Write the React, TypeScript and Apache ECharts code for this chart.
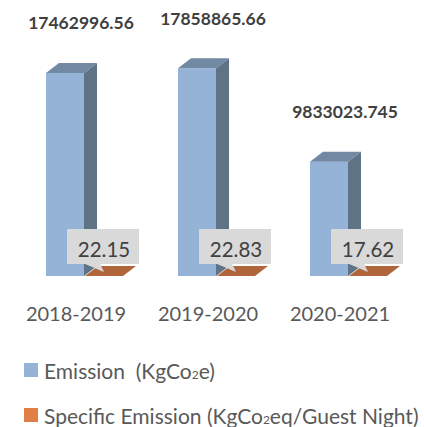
import React, { useEffect, useRef } from "react";
import * as echarts from "echarts";

const categories = ["2018-2019", "2019-2020", "2020-2021"];
const emission = [17462996.56, 17858865.66, 9833023.745];
const specificEmission = [22.15, 22.83, 17.62];
const seriesNames = ["Emission  (KgCo2e)", "Specific Emission (KgCo2eq/Guest Night)"];

const FONT = "Lato";

export default function App() {
  const ref = useRef<HTMLDivElement>(null);
  useEffect(() => {
    if (!ref.current) return;
    const chart = echarts.init(ref.current, null, { renderer: "svg" });
    const W = 38, DX = 13, DY = 10;
    const legendBase = {
      orient: "vertical",
      left: 19,
      itemWidth: 14,
      itemHeight: 14,
      icon: "rect",
      formatter: (name: string) => name.replace("Co2", "Co{sub|2}"),
      textStyle: {
        color: "#595959",
        fontSize: 21,
        fontFamily: FONT,
        lineHeight: 20,
        padding: [0, 0, 0, 1],
        rich: {
          sub: { fontSize: 12, fontFamily: FONT, color: "#595959", lineHeight: 10, padding: [18, 0, 0, 0], verticalAlign: "bottom" },
        },
      },
    };
    const option = {
      animation: false,
      grid: { left: 10, width: 396, top: 43.4, bottom: 151 },
      xAxis: {
        type: "category",
        data: categories,
        axisLine: { show: false },
        axisTick: { show: false },
        axisLabel: { color: "#595959", fontSize: 20, fontFamily: FONT, margin: 27 },
      },
      yAxis: { type: "value", min: 0, max: 20000000, show: false, splitLine: { show: false } },
      legend: [
        { ...legendBase, top: 345, data: [seriesNames[0]] },
        { ...legendBase, top: 390, data: [seriesNames[1]] },
      ],
      series: [
        {
          name: seriesNames[0],
          type: "custom",
          itemStyle: { color: "#95B3D7" },
          encode: { x: 0, y: 1 },
          data: emission.map((v, i) => [i, v]),
          renderItem: (params: any, api: any) => {
            const idx = api.value(0);
            const v = api.value(1);
            const top = api.coord([idx, v]);
            const base = api.coord([idx, 0]);
            const cx = top[0];
            const x0 = cx - 30;
            const t = top[1];
            const b = base[1];
            return {
              type: "group",
              children: [
                { type: "rect", shape: { x: x0, y: t, width: W, height: b - t }, style: { fill: "#95B3D7" } },
                {
                  type: "polygon",
                  shape: { points: [[x0 + W, t], [x0 + W + DX, t - DY], [x0 + W + DX, b - DY], [x0 + W, b]] },
                  style: { fill: "#5E7386" },
                },
                {
                  type: "polygon",
                  shape: { points: [[x0, t], [x0 + DX, t - DY], [x0 + W + DX, t - DY], [x0 + W, t]] },
                  style: { fill: "#7189A3" },
                },
                {
                  type: "text",
                  style: {
                    text: String(v),
                    x: cx + 5,
                    y: t - 50,
                    align: "center",
                    verticalAlign: "middle",
                    font: `bold 17.5px ${FONT}`,
                    fill: "#404040",
                  },
                },
              ],
            };
          },
        },
        {
          name: seriesNames[1],
          type: "custom",
          itemStyle: { color: "#E07F45" },
          encode: { x: 0, y: 1 },
          data: specificEmission.map((v, i) => [i, v]),
          renderItem: (params: any, api: any) => {
            const idx = api.value(0);
            const v = api.value(1);
            const top = api.coord([idx, v]);
            const base = api.coord([idx, 0]);
            const cx = top[0];
            const x0 = cx + 9;
            const t = top[1];
            const b = base[1];
            return {
              type: "group",
              children: [
                {
                  type: "polygon",
                  shape: { points: [[x0, t], [x0 + DX, t - DY], [x0 + W + DX, t - DY], [x0 + W, t]] },
                  style: { fill: "#B0653A" },
                },
                {
                  type: "rect",
                  shape: { x: cx - 9, y: b - 47, width: 72, height: 35 },
                  style: { fill: "#D9D9D9" },
                },
                {
                  type: "polygon",
                  shape: { points: [[cx + 8, b - 12.5], [cx + 24, b - 12.5], [cx + 28, b - 4]] },
                  style: { fill: "#D9D9D9" },
                },
                {
                  type: "text",
                  style: {
                    text: String(v),
                    x: cx + 28,
                    y: b - 27,
                    align: "center",
                    verticalAlign: "middle",
                    font: `20.5px ${FONT}`,
                    fill: "#404040",
                  },
                },
              ],
            };
          },
        },
      ],
    };
    chart.setOption(option as any);
    return () => chart.dispose();
  }, []);
  return <div ref={ref} style={{ position: "absolute", left: 0, top: 0, width: 424, height: 427 }} />;
}
